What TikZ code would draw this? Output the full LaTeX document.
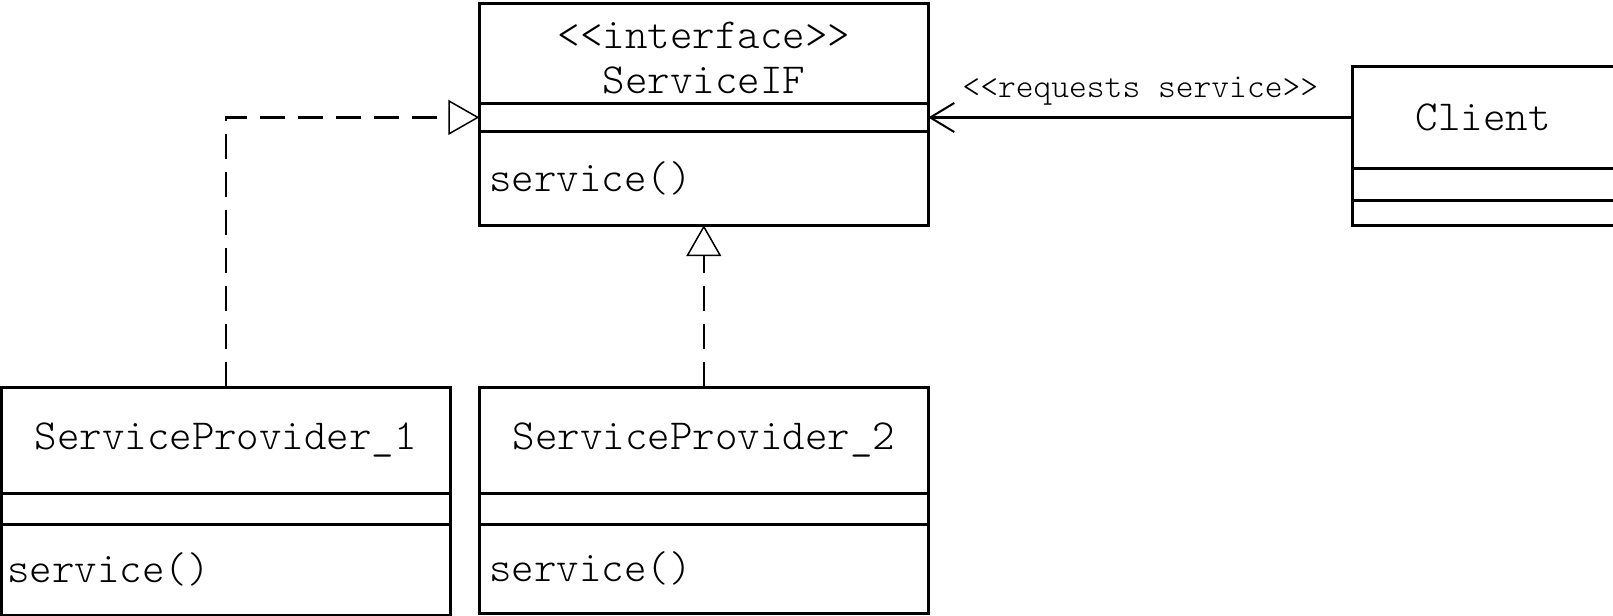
\documentclass[tikz,border=0pt]{standalone}
\usepackage{fontspec}
\setmonofont{Latin Modern Mono Light}
\usetikzlibrary{positioning, arrows.meta}
\newcommand{\umlfont}{\fontsize{43}{50}\selectfont\ttfamily}
\newcommand{\reqfont}{\fontsize{34}{40}\selectfont\ttfamily}
\newcommand{\umlstereo}[1]{<\kern0pt<#1>\kern0pt>}

\begin{document}
\begin{tikzpicture}[x=1bp, y=-1bp, line join=miter]
	\tikzset{part/.style={draw, line width=3bp, outer sep=0pt, inner xsep=10bp, inner ysep=0pt, font=\umlfont},
		head/.style={part, minimum width=#1, align=center},
		ops/.style={part, text width=#1, align=left},
		realize/.style={dash pattern=on 25bp off 13bp, line width=2.5bp, -{Triangle[open, length=31bp, width=35bp, line width=1.5bp]}},
		uses/.style={line width=3bp, -{Straight Barb[length=24bp, width=29bp, line width=2bp]}}}
	\useasboundingbox (0,0) rectangle (1613,616);
	% interface
	\node[head=449bp, minimum height=100bp, anchor=north west] (ifhead) at (479.3,3.3) {\rule{0pt}{36bp}\umlstereo{interface}\\[-4bp]ServiceIF};
	\node[head=449bp, minimum height=28.2bp, below=0pt of ifhead] (ifattr) {};
	\node[ops=429bp, minimum height=93.7bp, below=0pt of ifattr] (ifops) {service()};
	% client
	\node[head=262bp, minimum height=101.6bp, anchor=north west] (clhead) at (1352.3,66.7) {Client};
	\node[head=262bp, minimum height=31.7bp, below=0pt of clhead] (clattr) {};
	\node[head=262bp, minimum height=25bp, below=0pt of clattr] (clops) {};
	% providers
	\node[head=448.5bp, minimum height=106bp, anchor=north west] (spahead) at (1.5,387.3) {ServiceProvider\_1};
	\node[head=448.5bp, minimum height=31bp, below=0pt of spahead] (spaattr) {};
	\node[ops=436.5bp, inner xsep=6bp, minimum height=90.7bp, below=0pt of spaattr] (spaops) {service()};
	\node[head=449bp, minimum height=106bp, anchor=north west] (spbhead) at (479.3,387.3) {ServiceProvider\_2};
	\node[head=449bp, minimum height=31bp, below=0pt of spbhead] (spbattr) {};
	\node[ops=429bp, minimum height=88.7bp, below=0pt of spbattr] (spbops) {service()};
	% connectors
	\draw[realize] (spahead.north) |- (ifattr.west);
	\draw[realize] (spbhead.north) -- (ifops.south);
	\draw[uses] (clhead.west) -- node[above=11bp, font=\reqfont, inner sep=0pt] (req) {\umlstereo{requests service}} (clhead.west -| ifattr.east);
\end{tikzpicture}
\end{document}
